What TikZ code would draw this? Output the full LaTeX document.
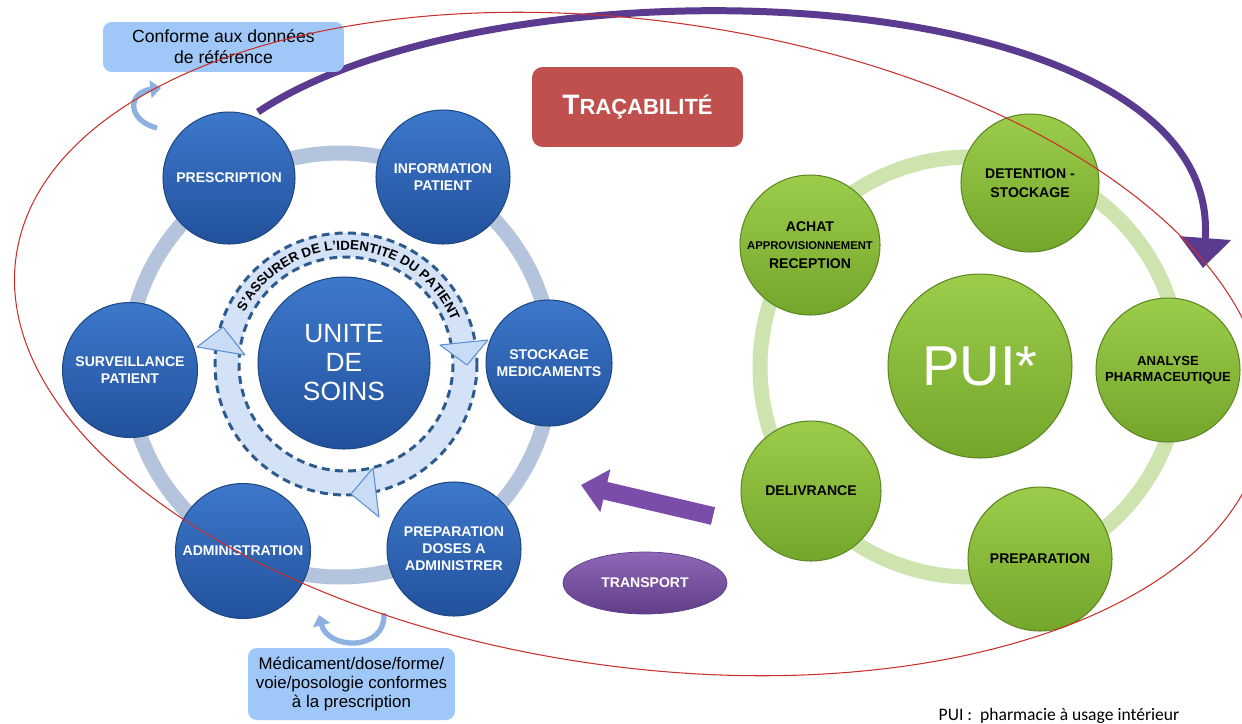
\documentclass[tikz,border=0pt]{standalone}
\usepackage{fontspec}
\setmainfont{Liberation Sans}
\newfontfamily\notefont{Carlito}
\usetikzlibrary{arrows.meta,decorations.text,shapes.geometric}

\definecolor{bleuhaut}{HTML}{3D78CB}
\definecolor{bleubas}{HTML}{22519C}
\definecolor{bleubord}{HTML}{1E4882}
\definecolor{anneaubleu}{HTML}{B4C4DC}
\definecolor{verthaut}{HTML}{9CCC4A}
\definecolor{vertbas}{HTML}{74A62B}
\definecolor{vertbord}{HTML}{5C8722}
\definecolor{anneauvert}{HTML}{CDE4AF}
\definecolor{rougetrac}{HTML}{C0504D}
\definecolor{violetarc}{HTML}{5B3B8F}
\definecolor{violetbloc}{HTML}{7A4DAA}
\definecolor{bleuboite}{HTML}{9FC7F7}
\definecolor{bande}{HTML}{D3E2F6}
\definecolor{tiret}{HTML}{2E5B8E}
\definecolor{flechebord}{HTML}{5D8FD4}
\definecolor{flechefond}{HTML}{C9DCF5}
\definecolor{rougeellipse}{HTML}{C9302C}

\tikzset{
  boule/.style={circle, draw=bleubord, line width=0.6pt, top color=bleuhaut,
    bottom color=bleubas, text=white, align=center, inner sep=0pt,
    font=\bfseries\fontsize{8}{9.6}\selectfont},
  bouleverte/.style={circle, draw=vertbord, line width=0.6pt, top color=verthaut,
    bottom color=vertbas, text=black, align=center, inner sep=0pt,
    font=\bfseries\fontsize{8}{10.5}\selectfont},
  bulle/.style={rectangle, rounded corners=5pt, fill=bleuboite, align=center,
    inner sep=0pt},
  pointe/.style={fill=flechefond, draw=flechebord, line width=0.6pt, line join=round},
  courbe/.style={line width=3pt, flechebord!70, -{Triangle[length=6pt,width=10pt]}}
}

\begin{document}
\begin{tikzpicture}[x=0.02cm, y=-0.02cm]
\useasboundingbox (0,0) rectangle (1242,724);

% Positions des centres
\coordinate (centre-us) at (340,365);   % anneau unite de soins
\coordinate (centre-pui) at (970,367);  % anneau PUI
\coordinate (arc-debut) at (258,112);
\coordinate (arc-fin) at (1203,268);
\coordinate (bloc-debut) at (713,516);
\coordinate (bloc-fin) at (581,485);

% Anneaux
\draw[anneaubleu, line width=0.3cm] (centre-us) circle [radius=212];
\draw[anneauvert, line width=0.3cm] (centre-pui) circle [radius=210];

% Bande "s'assurer de l'identite du patient"
\fill[bande, even odd rule] (346,364) circle [radius=131] (346,364) circle [radius=107];
\draw[tiret, line width=1.7pt, dash pattern=on 4.5pt off 3pt] (346,364) circle [radius=131];
\draw[tiret, line width=1.7pt, dash pattern=on 4.5pt off 3pt] (346,364) circle [radius=107];
\filldraw[pointe] (197,347) -- (223,327) -- (245,355) -- cycle;
\filldraw[pointe] (440,345) -- (488,340) -- (467,365) -- cycle;
\filldraw[pointe] (351,494) -- (373,468) -- (379,517) -- cycle;
\path[decorate, decoration={text along path, text align=center,
    text={|\bfseries\fontsize{7.6}{8}\selectfont|S'ASSURER DE L'IDENTITE DU PATIENT}}]
  (346,364) ++(-163:114) arc [start angle=-163, end angle=-12, radius=114];

% Fleches violettes
\draw[violetarc, line width=0.14cm, -{Triangle[length=0.6cm,width=1cm]}]
  (arc-debut) .. controls (500,-50) and (1225,-25) .. (arc-fin);
\draw[violetbloc, line width=0.36cm, -{Triangle[length=0.5cm,width=0.85cm]}]
  (bloc-debut) -- (bloc-fin);

% Unite de soins
\node[boule, minimum size=3.44cm, font=\fontsize{15}{16.5}\selectfont] (unite) at (344,363) {UNITE\\DE\\SOINS};
\node[boule, minimum size=2.64cm] (prescription) at (229,178) {PRESCRIPTION};
\node[boule, minimum size=2.68cm] (information) at (443,177) {INFORMATION\\PATIENT};
\node[boule, minimum size=2.52cm] (stockage) at (549,363) {STOCKAGE\\MEDICAMENTS};
\node[boule, minimum size=2.68cm] (preparation) at (454,549) {PREPARATION\\DOSES A\\ADMINISTRER};
\node[boule, minimum size=2.7cm] (administration) at (243,551) {ADMINISTRATION};
\node[boule, minimum size=2.7cm] (surveillance) at (130,370) {SURVEILLANCE\\PATIENT};

% PUI
\node[bouleverte, minimum size=3.68cm, font=\fontsize{32}{34}\selectfont, text=white] (pui) at (980,366) {PUI*};
\node[bouleverte, minimum size=2.8cm] (achat) at (810,245) {ACHAT\\{\fontsize{6.4}{10.5}\selectfont APPROVISIONNEMENT}\\RECEPTION};
\node[bouleverte, minimum size=2.76cm] (detention) at (1030,183) {DETENTION -\\STOCKAGE};
\node[bouleverte, minimum size=2.88cm, font=\bfseries\fontsize{7.5}{9}\selectfont] (analyse) at (1168,370) {ANALYSE\\PHARMACEUTIQUE};
\node[bouleverte, minimum size=2.88cm] (preparation-pui) at (1040,559) {PREPARATION};
\node[bouleverte, minimum size=2.8cm] (delivrance) at (811,491) {DELIVRANCE};

\node[ellipse, minimum width=3.28cm, minimum height=1.24cm, top color=violetbloc!85!white,
  bottom color=violetbloc!80!black, draw=violetarc, text=white,
  font=\bfseries\fontsize{8}{9.6}\selectfont] (transport) at (645,583) {TRANSPORT};

% Boites de texte
\node[rectangle, rounded corners=6pt, fill=rougetrac, minimum width=4.22cm, minimum height=1.6cm,
  text=white, font=\bfseries] (tracabilite) at (637.5,107)
  {{\fontsize{16}{18}\selectfont T}{\fontsize{12.5}{18}\selectfont RAÇABILITÉ}};
\node[bulle, minimum width=4.82cm, minimum height=1cm, font=\fontsize{10}{12}\selectfont] (conforme) at (223.5,47)
  {Conforme aux données\\de référence};
\node[bulle, minimum width=4.14cm, minimum height=1.44cm, font=\fontsize{9.6}{10.8}\selectfont] (medicament) at (351.5,684)
  {Médicament/dose/forme/\\voie/posologie conformes\\à la prescription};

% Petites fleches courbes
\draw[courbe] (157,128) .. controls (126,120) and (128,92) .. (161,88);
\draw[courbe] (384,613) .. controls (386,652) and (328,650) .. (319,615);

% Grande ellipse rouge
\draw[rougeellipse, line width=0.6pt, rotate around={-8:(640,344)}] (640,344) ellipse [x radius=630, y radius=323];

% Note
\node[font=\notefont\fontsize{10}{12}\selectfont, anchor=base] (note) at (1059,720) {PUI :\ \ pharmacie à usage intérieur};
\end{tikzpicture}
\end{document}
